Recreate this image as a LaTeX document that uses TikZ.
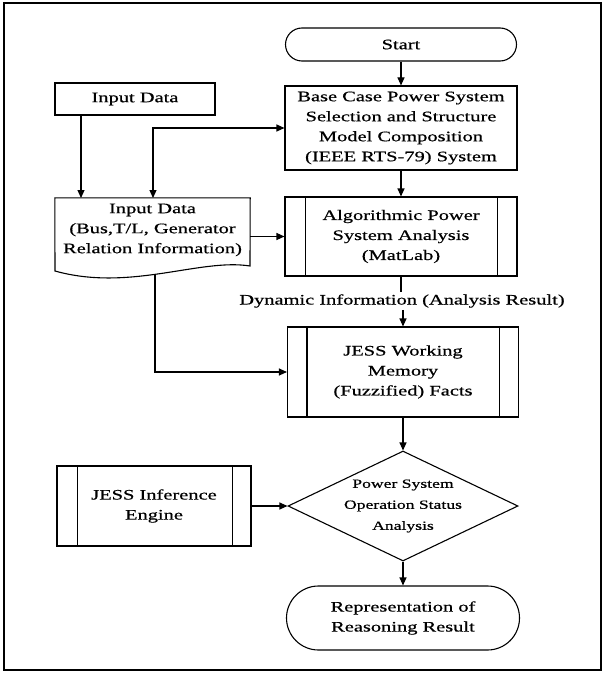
\documentclass[tikz,border=0pt]{standalone}
\usepackage{fontspec}
\setmainfont{Liberation Serif}[FakeStretch=1.41,FakeBold=0.6]
\usetikzlibrary{arrows.meta,shapes.geometric}
\newcommand\figfont{\fontsize{14.5}{20}\selectfont}
\newcommand\diafont{\fontsize{12.5}{21}\selectfont}
\begin{document}
\begin{tikzpicture}[x=1pt,y=-1pt,
  ln/.style={line width=1.1pt},
  box/.style={draw, ln, inner sep=0pt, align=center, font=\figfont},
  txt/.style={inner sep=2pt, align=center, font=\figfont},
  arr/.style={ln, -{Triangle[length=8pt,width=7pt]}},
  arrtwo/.style={ln, {Triangle[length=8pt,width=7pt]}-{Triangle[length=8pt,width=7pt]}}]
\useasboundingbox (0,0) rectangle (603,674);
\draw[line width=1.6pt] (4,3) rectangle (601,670);

% nodes
\node[box, minimum width=231pt, minimum height=33pt, rounded corners=16.5pt] (start) at (401,44.5) {Start};
\node[box, minimum width=160pt, minimum height=32pt] (inp) at (135,99) {Input Data};
\node[box, minimum width=232pt, minimum height=84pt] (base) at (401,128)
  {Base Case Power System\\Selection and Structure\\Model Composition\\(IEEE RTS-79) System};
\node[inner sep=0pt, minimum width=195pt, minimum height=74pt] (doc) at (152.5,235) {};
\node[txt] (doctext) at (152.5,230) {Input Data\\(Bus,T/L, Generator\\Relation Information)};
\node[box, minimum width=232pt, minimum height=79pt] (algo) at (401,236.5)
  {Algorithmic Power\\System Analysis\\(MatLab)};
\node[txt] (dyn) at (402,301) {Dynamic Information (Analysis Result)};
\node[box, minimum width=231pt, minimum height=90pt] (jwm) at (403,372)
  {JESS Working\\Memory\\(Fuzzified) Facts};
\node[draw, ln, diamond, minimum width=230pt, minimum height=110pt, inner sep=0pt] (dia) at (403,506) {};
\node[inner sep=0pt, align=center, font=\diafont] (diatext) at (dia.center) {Power System\\Operation Status\\Analysis};
\node[box, minimum width=194pt, minimum height=80pt] (inf) at (154,506) {JESS Inference\\Engine};
\node[box, minimum width=233pt, minimum height=64pt, rounded corners=32pt] (rep) at (403,618)
  {Representation of\\Reasoning Result};

% document outline
\draw[ln] (doc.north west) -- (doc.north east) -- (250,266)
  .. controls (200,258) and (130,292) .. (55,271) -- cycle;

% predefined process inner lines
\foreach \n/\a/\b in {algo/21/20, jwm/20/20, inf/21/19}{
  \draw[ln] ([xshift=\a pt]\n.north west) -- ([xshift=\a pt]\n.south west);
  \draw[ln] ([xshift=-\b pt]\n.north east) -- ([xshift=-\b pt]\n.south east);
}

% coordinates
\coordinate (c1) at (81,198);
\coordinate (c2) at (153,198);
\coordinate (docB) at (155,274);

% connectors
\draw[arr] (start.south) -- (start.south |- base.north);
\draw[arr] (inp.south -| c1) -- (c1);
\draw[arrtwo] (base.west) -| (c2);
\draw[arr] (doc.east |- algo.west) -- (algo.west);
\draw[arr] (base.south) -- (algo.north);
\draw[ln] (algo.south) -- (algo.south |- dyn.north);
\draw[arr] (dyn.south -| jwm.north) -- (jwm.north);
\draw[arr] (docB) |- (jwm.west);
\draw[arr] (jwm.south) -- (dia.north);
\draw[arr] (inf.east) -- (dia.west);
\draw[arr] (dia.south) -- (rep.north);
\end{tikzpicture}
\end{document}
